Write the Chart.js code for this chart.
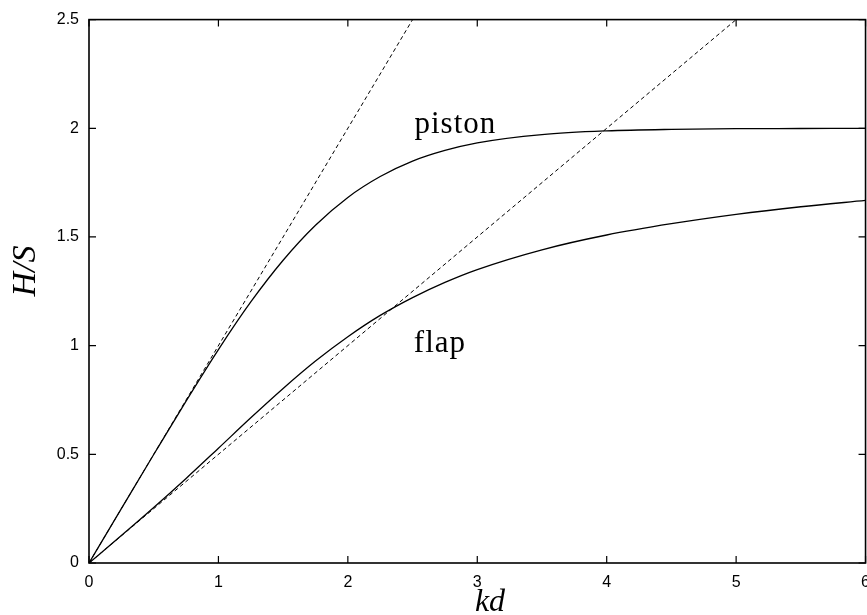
<!DOCTYPE html>
<html>
<head>
<meta charset="utf-8">
<script src="https://cdn.jsdelivr.net/npm/chart.js@4.4.1/dist/chart.umd.min.js"></script>
<style>
  html, body { margin: 0; padding: 0; background: #fff; overflow: hidden; }
  #wrap { width: 880px; height: 615px; }
</style>
</head>
<body>
<div id="wrap"><canvas id="c" width="880" height="615"></canvas></div>
<script>
// Wavemaker height-to-stroke ratio against relative depth kd
const kd = [0, 0.25, 0.5, 0.75, 1, 1.25, 1.5, 1.75, 2, 2.25, 2.5, 2.75, 3, 3.5, 4, 4.5, 5, 5.5, 6];
const piston = [0, 0.250, 0.499, 0.745, 0.982, 1.201, 1.393, 1.554, 1.682, 1.778, 1.849, 1.898, 1.933, 1.971, 1.988, 1.995, 1.998, 1.999, 2.000];
const flap = [0, 0.126, 0.255, 0.389, 0.528, 0.668, 0.803, 0.929, 1.041, 1.139, 1.221, 1.291, 1.350, 1.441, 1.509, 1.561, 1.604, 1.639, 1.668];

// Shallow-water straight-line limits
const pistonShallowKd = [0, 2.5];
const pistonShallow = [0, 2.5];
const flapShallowKd = [0, 5];
const flapShallow = [0, 2.5];

const xTicks = [0, 1, 2, 3, 4, 5, 6];
const yTicks = [0, 0.5, 1, 1.5, 2, 2.5];
const yTickLabels = ['0', '0.5', '1', '1.5', '2', '2.5'];

const curveLabels = [
  { text: 'piston', x: 2.515, y: 1.98 },
  { text: 'flap', x: 2.51, y: 0.97 }
];

const pts = (xs, ys) => xs.map((x, i) => ({ x: x, y: ys[i] }));

const framePlugin = {
  id: 'frame',
  afterDraw(chart) {
    const ctx = chart.ctx;
    const a = chart.chartArea;
    const xs = chart.scales.x, ys = chart.scales.y;
    ctx.save();
    ctx.strokeStyle = '#000';
    ctx.lineWidth = 1.6;
    ctx.strokeRect(a.left, a.top, a.right - a.left, a.bottom - a.top);
    ctx.lineWidth = 1.2;
    const tl = 7;
    ctx.beginPath();
    xTicks.forEach(v => {
      const px = xs.getPixelForValue(v);
      ctx.moveTo(px, a.bottom); ctx.lineTo(px, a.bottom - tl);
      ctx.moveTo(px, a.top); ctx.lineTo(px, a.top + tl);
    });
    yTicks.forEach(v => {
      const py = ys.getPixelForValue(v);
      ctx.moveTo(a.left, py); ctx.lineTo(a.left + tl, py);
      ctx.moveTo(a.right, py); ctx.lineTo(a.right - tl, py);
    });
    ctx.stroke();

    // curve names
    ctx.fillStyle = '#000';
    ctx.font = '31px "Liberation Serif"';
    ctx.textAlign = 'left';
    ctx.textBaseline = 'alphabetic';
    ctx.letterSpacing = '1px';
    curveLabels.forEach(l => {
      ctx.fillText(l.text, xs.getPixelForValue(l.x), ys.getPixelForValue(l.y));
    });
    ctx.letterSpacing = '0px';

    // axis titles
    ctx.font = 'italic 32px "Liberation Serif"';
    ctx.textAlign = 'center';
    ctx.fillText('kd', 490, 611);
    ctx.save();
    ctx.translate(35, 271);
    ctx.rotate(-Math.PI / 2);
    ctx.font = 'italic 34px "Liberation Serif"';
    ctx.fillText('H/S', 0, 0);
    ctx.restore();
    ctx.restore();
  }
};

const lineStyle = { borderColor: '#000', backgroundColor: '#000', pointRadius: 0, fill: false };
const tickFont = { family: '"Liberation Sans"', size: 16 };

new Chart(document.getElementById('c'), {
  type: 'line',
  data: {
    datasets: [
      Object.assign({ label: 'piston', data: pts(kd, piston), borderWidth: 1.3, cubicInterpolationMode: 'monotone' }, lineStyle),
      Object.assign({ label: 'flap', data: pts(kd, flap), borderWidth: 1.3, cubicInterpolationMode: 'monotone' }, lineStyle),
      Object.assign({ label: 'piston shallow', data: pts(pistonShallowKd, pistonShallow), borderWidth: 1, borderDash: [4, 3] }, lineStyle),
      Object.assign({ label: 'flap shallow', data: pts(flapShallowKd, flapShallow), borderWidth: 1, borderDash: [4, 3] }, lineStyle)
    ]
  },
  options: {
    responsive: false,
    animation: false,
    devicePixelRatio: 1,
    layout: { padding: { top: 17, right: 11, left: 0, bottom: 0 } },
    plugins: { legend: { display: false }, tooltip: { enabled: false } },
    scales: {
      x: {
        type: 'linear', min: 0, max: 6,
        afterFit: s => { s.height = 52; },
        afterBuildTicks: s => { s.ticks = xTicks.map(v => ({ value: v })); },
        grid: { display: false, drawTicks: false },
        border: { display: false },
        ticks: { color: '#000', padding: 10, maxRotation: 0, font: tickFont,
                 callback: v => String(v) }
      },
      y: {
        type: 'linear', min: 0, max: 2.5,
        afterFit: s => { s.width = 89; },
        afterBuildTicks: s => { s.ticks = yTicks.map(v => ({ value: v })); },
        grid: { display: false, drawTicks: false },
        border: { display: false },
        ticks: { color: '#000', padding: 10, font: tickFont,
                 callback: v => yTickLabels[yTicks.indexOf(v)] }
      }
    }
  },
  plugins: [framePlugin]
});
</script>
</body>
</html>
